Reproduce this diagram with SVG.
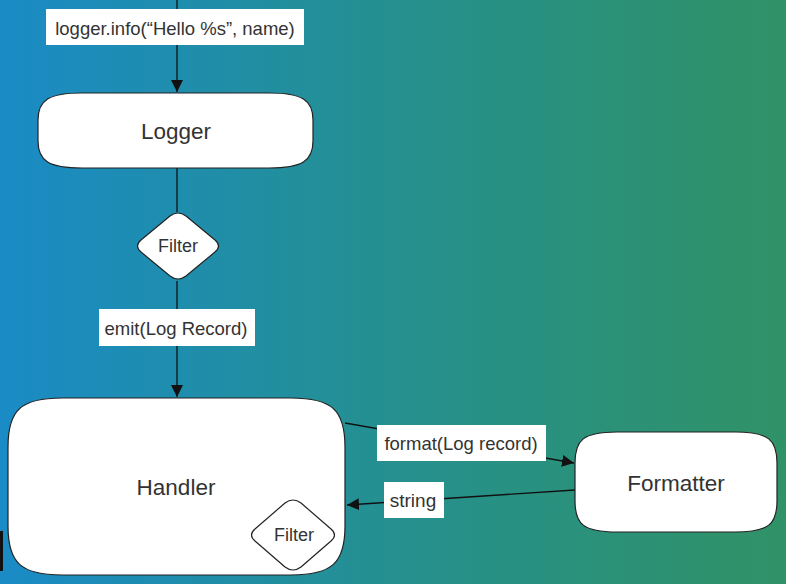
<svg xmlns="http://www.w3.org/2000/svg" width="786" height="584" viewBox="0 0 786 584">
<defs>
<linearGradient id="bg" x1="0" y1="0" x2="1" y2="0">
<stop offset="0" stop-color="#1a8bc6"/>
<stop offset="0.5" stop-color="#25908f"/>
<stop offset="1" stop-color="#309266"/>
</linearGradient>
<marker id="ah" viewBox="0 0 10 10" refX="10" refY="5" markerWidth="12" markerHeight="12" markerUnits="userSpaceOnUse" orient="auto">
<path d="M0,0 L10,5 L0,10 z" fill="#111"/>
</marker>
<style>
.node{fill:#fff;stroke:#222;stroke-width:1.2}
.lbl{fill:#fff}
.t{font-family:"Liberation Sans",Arial,sans-serif;fill:#333;text-anchor:middle;dominant-baseline:central}
.conn{stroke:#111;stroke-width:1.3;fill:none}
</style>
</defs>
<rect width="786" height="584" fill="url(#bg)"/>
<rect x="0" y="531" width="3" height="40" fill="#111"/>
<g id="connectors">
<line class="conn" x1="177" y1="0" x2="177" y2="92" marker-end="url(#ah)"/>
<line class="conn" x1="177" y1="168" x2="177" y2="212"/>
<line class="conn" x1="177" y1="281" x2="177" y2="397" marker-end="url(#ah)"/>
<line class="conn" x1="345" y1="423" x2="574" y2="463" marker-end="url(#ah)"/>
<line class="conn" x1="575" y1="490" x2="347" y2="505" marker-end="url(#ah)"/>
<rect class="lbl" x="46" y="9" width="258" height="36"/>
<text class="t" x="175" y="28" font-size="18.5">logger.info(“Hello %s”, name)</text>
<rect class="lbl" x="99" y="309" width="156" height="37"/>
<text class="t" x="176" y="328" font-size="18.5">emit(Log Record)</text>
<rect class="lbl" x="377" y="425" width="169" height="36"/>
<text class="t" x="461" y="443" font-size="18.5">format(Log record)</text>
<rect class="lbl" x="384" y="482" width="60" height="36"/>
<text class="t" x="413" y="500" font-size="19">string</text>
</g>
<g id="logger">
<path class="node" d="M82,93 L269,93 C302,93 313,100 313,120 L313,141 C313,161 302,168 269,168 L82,168 C49,168 38,161 38,141 L38,120 C38,100 49,93 82,93 Z"/>
<text class="t" x="176" y="131" font-size="22.5">Logger</text>
</g>
<g id="filter1">
<path class="node" d="M170,216 Q178,210 186,216 L215,240 Q222,246 215,252 L186,276 Q178,282 170,276 L141,252 Q134,246 141,240 Z"/>
<text class="t" x="178" y="246" font-size="18">Filter</text>
</g>
<g id="handler">
<path class="node" d="M62,398 L291,398 C332,398 345,410 345,447 L345,526 C345,563 332,575 291,575 L62,575 C21,575 8,563 8,526 L8,447 C8,410 21,398 62,398 Z"/>
<text class="t" x="176" y="487" font-size="22.5">Handler</text>
</g>
<g id="filter2">
<path class="node" d="M285,503 Q293,497 301,503 L331,529 Q338,535 331,541 L301,567 Q293,573 285,567 L255,541 Q248,535 255,529 Z"/>
<text class="t" x="294" y="535" font-size="18">Filter</text>
</g>
<g id="formatter">
<path class="node" d="M617,432 L735,432 C769,432 777,440 777,463 L777,501 C777,524 769,532 735,532 L617,532 C583,532 575,524 575,501 L575,463 C575,440 583,432 617,432 Z"/>
<text class="t" x="676" y="483" font-size="22.5">Formatter</text>
</g>
</svg>
